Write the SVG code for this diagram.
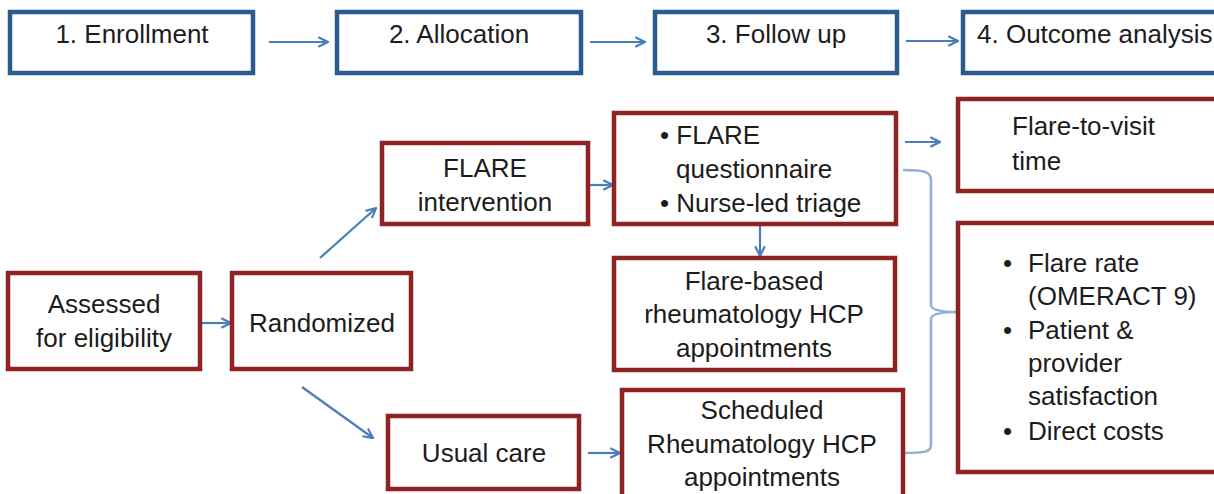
<svg xmlns="http://www.w3.org/2000/svg" width="1214" height="494" viewBox="0 0 1214 494">
<style>
  .bb { fill: #ffffff; stroke: #2b5c8f; stroke-width: 4.5; }
  .rb { fill: #ffffff; stroke: #8f2323; stroke-width: 4.5; }
  .t { font-family: "Liberation Sans", Arial, sans-serif; font-size: 26px; fill: #1c1c1c; }
  .c { text-anchor: middle; }
  .ar { fill: none; stroke: #4a7ebb; stroke-width: 2.2; marker-end: url(#ah); }
  .br { fill: none; stroke: #8eb1da; stroke-width: 2.5; }
</style>
<defs>
  <marker id="ah" viewBox="0 0 10 10" refX="9" refY="5" markerWidth="5.5" markerHeight="5.5" orient="auto" markerUnits="strokeWidth">
    <path d="M1,1 L9,5 L1,9" fill="none" stroke="#4a7ebb" stroke-width="1.8"/>
  </marker>
</defs>
<rect width="1214" height="494" fill="#ffffff"/>

<g id="connectors">
  <line class="ar" x1="269" y1="42" x2="328" y2="42"/>
  <line class="ar" x1="590" y1="42" x2="645" y2="42"/>
  <line class="ar" x1="906" y1="41" x2="958" y2="41"/>
  <line class="ar" x1="200" y1="323" x2="231" y2="323"/>
  <line class="ar" x1="320" y1="258" x2="376" y2="208"/>
  <line class="ar" x1="302" y1="387" x2="373" y2="438"/>
  <line class="ar" x1="590" y1="185" x2="613" y2="185"/>
  <line class="ar" x1="760" y1="224" x2="760" y2="256"/>
  <line class="ar" x1="588" y1="453" x2="620" y2="453"/>
  <line class="ar" x1="905" y1="142" x2="940" y2="142"/>
  <path class="br" d="M903,170 C925,170 931,172 931,180 L931,305 C931,310 940,312 958,312 C940,312 931,314 931,319 L931,445 C931,452 925,453 903,453"/>
</g>

<g id="n-enrollment">
  <rect class="bb" x="10" y="12" width="243" height="61"/>
  <text class="t c" x="132" y="43">1. Enrollment</text>
</g>
<g id="n-allocation">
  <rect class="bb" x="337" y="12" width="244" height="61"/>
  <text class="t c" x="459" y="43">2. Allocation</text>
</g>
<g id="n-followup">
  <rect class="bb" x="655" y="12" width="242" height="61"/>
  <text class="t c" x="776" y="43">3. Follow up</text>
</g>
<g id="n-outcome-analysis">
  <rect class="bb" x="963" y="12" width="260" height="61"/>
  <text class="t" x="977" y="43">4. Outcome analysis</text>
</g>

<g id="n-assessed">
  <rect class="rb" x="8" y="273" width="192" height="96"/>
  <text class="t c" x="104" y="313">Assessed</text>
  <text class="t c" x="104" y="347">for eligibility</text>
</g>
<g id="n-randomized">
  <rect class="rb" x="232" y="273" width="179" height="96"/>
  <text class="t c" x="322" y="332">Randomized</text>
</g>
<g id="n-flare-intervention">
  <rect class="rb" x="382" y="143" width="206" height="81"/>
  <text class="t c" x="485" y="177">FLARE</text>
  <text class="t c" x="485" y="211">intervention</text>
</g>
<g id="n-usual-care">
  <rect class="rb" x="388" y="416" width="191" height="73"/>
  <text class="t c" x="484" y="462">Usual care</text>
</g>
<g id="n-flare-questionnaire">
  <rect class="rb" x="614" y="113" width="282" height="111"/>
  <text class="t" x="660" y="144">• FLARE</text>
  <text class="t" x="676" y="178">questionnaire</text>
  <text class="t" x="660" y="212">• Nurse-led triage</text>
</g>
<g id="n-flare-based">
  <rect class="rb" x="614" y="258" width="281" height="112"/>
  <text class="t c" x="754" y="290">Flare-based</text>
  <text class="t c" x="754" y="323">rheumatology HCP</text>
  <text class="t c" x="754" y="357">appointments</text>
</g>
<g id="n-scheduled">
  <rect class="rb" x="622" y="390" width="281" height="112"/>
  <text class="t c" x="762" y="419">Scheduled</text>
  <text class="t c" x="762" y="453">Rheumatology HCP</text>
  <text class="t c" x="762" y="486">appointments</text>
</g>
<g id="n-flare-to-visit">
  <rect class="rb" x="958" y="99" width="265" height="92"/>
  <text class="t" x="1012" y="135">Flare-to-visit</text>
  <text class="t" x="1012" y="170">time</text>
</g>
<g id="n-outcomes">
  <rect class="rb" x="958" y="223" width="265" height="249"/>
  <text class="t" x="1003" y="272">•</text>
  <text class="t" x="1028" y="272">Flare rate</text>
  <text class="t" x="1028" y="305">(OMERACT 9)</text>
  <text class="t" x="1003" y="339">•</text>
  <text class="t" x="1028" y="339">Patient &amp;</text>
  <text class="t" x="1028" y="372">provider</text>
  <text class="t" x="1028" y="405">satisfaction</text>
  <text class="t" x="1003" y="440">•</text>
  <text class="t" x="1028" y="440">Direct costs</text>
</g>
</svg>
